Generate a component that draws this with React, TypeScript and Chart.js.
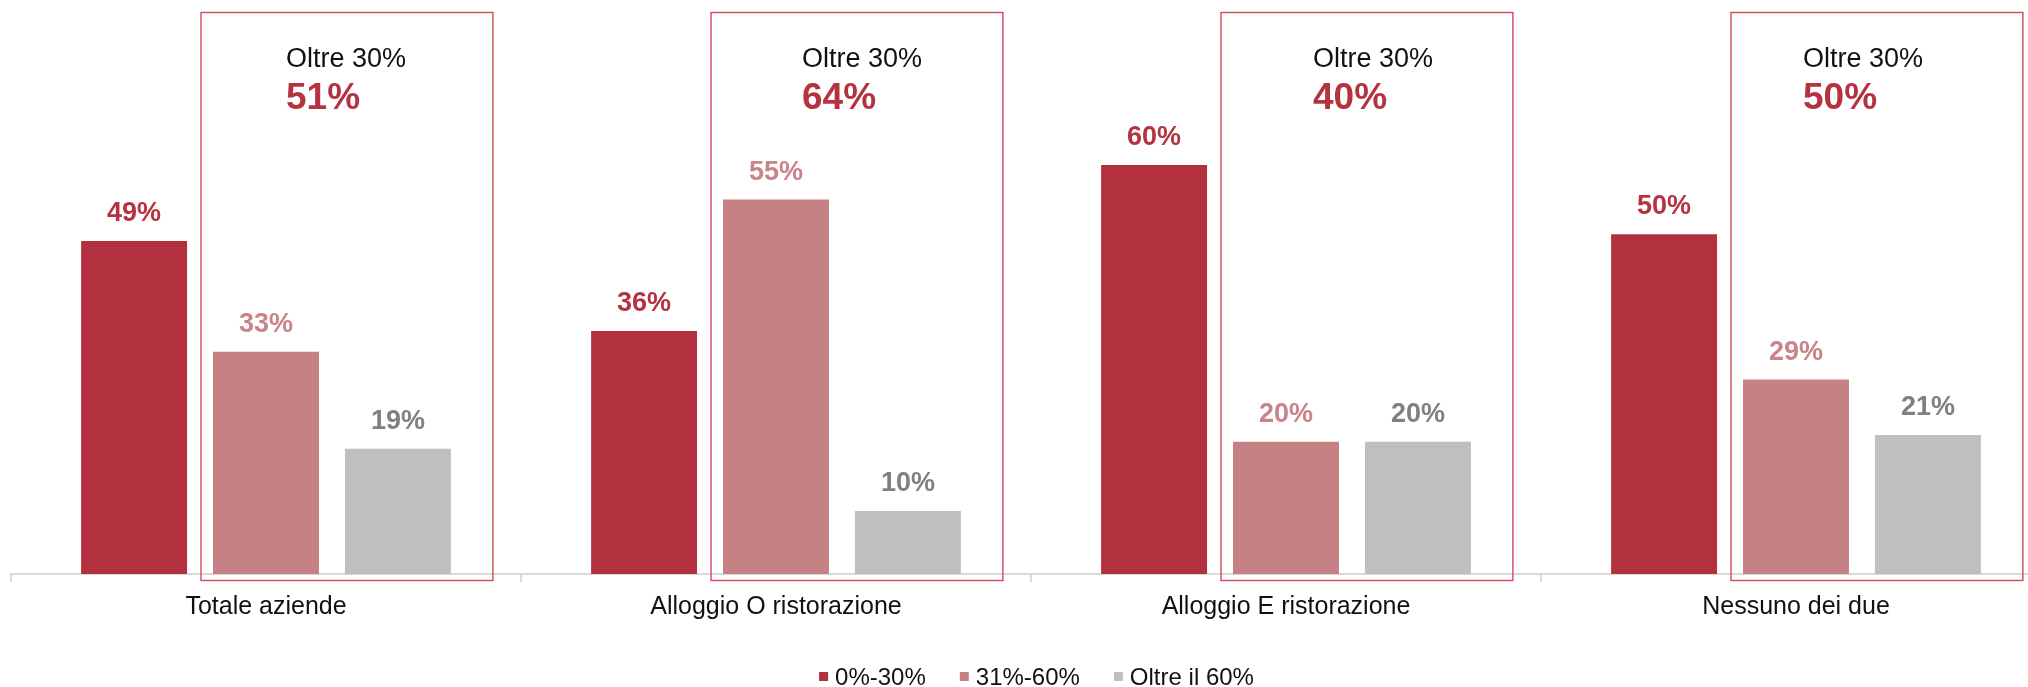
import React, { useEffect, useRef } from "react";
import { Chart, registerables } from "chart.js";

Chart.register(...registerables);

const categories = ["Totale aziende", "Alloggio O ristorazione", "Alloggio E ristorazione", "Nessuno dei due"];
const seriesNames = ["0%-30%", "31%-60%", "Oltre il 60%"];
const series0to30 = [49, 36, 60, 50];
const series31to60 = [33, 55, 20, 29];
const seriesOver60 = [19, 10, 20, 21];
const noteTitle = "Oltre 30%";
const noteValues = [51, 64, 40, 50];

const barColors = ["#B3303E", "#C68185", "#BFBFBF"];
const labelColors = ["#B5323F", "#C9848A", "#808080"];
const FONT = '"Liberation Sans", Arial, sans-serif';
const noteTextOffsets = [85, 91, 92, 72];

const valueLabelPlugin = {
  id: "valueLabels",
  afterDatasetsDraw(chart: any) {
    const ctx = chart.ctx;
    ctx.save();
    ctx.font = `bold 27px ${FONT}`;
    ctx.textAlign = "center";
    ctx.textBaseline = "alphabetic";
    chart.data.datasets.forEach((ds: any, di: number) => {
      const meta = chart.getDatasetMeta(di);
      ctx.fillStyle = labelColors[di];
      meta.data.forEach((el: any, i: number) => {
        ctx.fillText(`${ds.data[i]}%`, el.x, el.y - 20);
      });
    });
    ctx.restore();
  },
};

const notePlugin = {
  id: "notes",
  afterDatasetsDraw(chart: any) {
    const ctx = chart.ctx;
    const m1 = chart.getDatasetMeta(1);
    const m2 = chart.getDatasetMeta(2);
    ctx.save();
    categories.forEach((_, i) => {
      const b1 = m1.data[i];
      const b2 = m2.data[i];
      const left = b1.x - b1.width / 2 - 12;
      const right = b2.x + b2.width / 2 + 42;
      const top = 12.5;
      const bottom = 580.5;
      ctx.strokeStyle = "#D04A5A";
      ctx.lineWidth = 1.4;
      ctx.strokeRect(left, top, right - left, bottom - top);
      const tx = left + noteTextOffsets[i];
      ctx.textAlign = "left";
      ctx.textBaseline = "alphabetic";
      ctx.fillStyle = "#111111";
      ctx.font = `27px ${FONT}`;
      ctx.fillText(noteTitle, tx, 66.5);
      ctx.fillStyle = "#B5323F";
      ctx.font = `bold 37px ${FONT}`;
      ctx.fillText(`${noteValues[i]}%`, tx, 109);
    });
    ctx.restore();
  },
};

const legendPlugin = {
  id: "customLegend",
  afterDraw(chart: any) {
    const ctx = chart.ctx;
    ctx.save();
    ctx.font = `24px ${FONT}`;
    const box = 9;
    const gapBoxText = 7;
    const gapItems = 34;
    const widths = seriesNames.map((n) => ctx.measureText(n).width);
    const total = widths.reduce((a, w) => a + box + gapBoxText + w, 0) + gapItems * (seriesNames.length - 1);
    let x = 1036.5 - total / 2;
    const baseline = 685;
    seriesNames.forEach((n, i) => {
      ctx.fillStyle = barColors[i];
      ctx.fillRect(x, 672, box, box);
      x += box + gapBoxText;
      ctx.fillStyle = "#111111";
      ctx.textAlign = "left";
      ctx.textBaseline = "alphabetic";
      ctx.fillText(n, x, baseline);
      x += widths[i] + gapItems;
    });
    ctx.restore();
  },
};

export default function App() {
  const ref = useRef<HTMLCanvasElement | null>(null);
  useEffect(() => {
    if (!ref.current) return;
    const chart = new Chart(ref.current, {
      type: "bar",
      data: {
        labels: categories,
        datasets: [
          { label: seriesNames[0], data: series0to30, backgroundColor: barColors[0] },
          { label: seriesNames[1], data: series31to60, backgroundColor: barColors[1] },
          { label: seriesNames[2], data: seriesOver60, backgroundColor: barColors[2] },
        ],
      },
      options: {
        responsive: false,
        animation: false,
        datasets: { bar: { categoryPercentage: 0.776, barPercentage: 0.803 } },
        layout: { padding: { left: 11, right: 9, top: 12, bottom: 0 } },
        scales: {
          x: {
            grid: { offset: true, drawOnChartArea: false, drawTicks: true, tickLength: 8, color: "#D9D9D9", lineWidth: 2 },
            border: { display: true, color: "#D9D9D9", width: 2 },
            ticks: { font: { family: FONT, size: 25 }, color: "#111111", padding: 10, maxRotation: 0 },
            afterFit: (s: any) => { s.height = 113; },
          },
          y: { display: false, min: 0.9, max: 82.1 },
        },
        plugins: { legend: { display: false }, tooltip: { enabled: false } },
      },
      plugins: [valueLabelPlugin, notePlugin, legendPlugin],
    });
    return () => chart.destroy();
  }, []);
  return (
    <div style={{ position: "fixed", left: 0, top: 0, width: 2028, height: 687, overflow: "hidden", background: "#fff" }}>
      <canvas ref={ref} width={2060} height={687} style={{ display: "block", width: 2060, height: 687 }} />
    </div>
  );
}
